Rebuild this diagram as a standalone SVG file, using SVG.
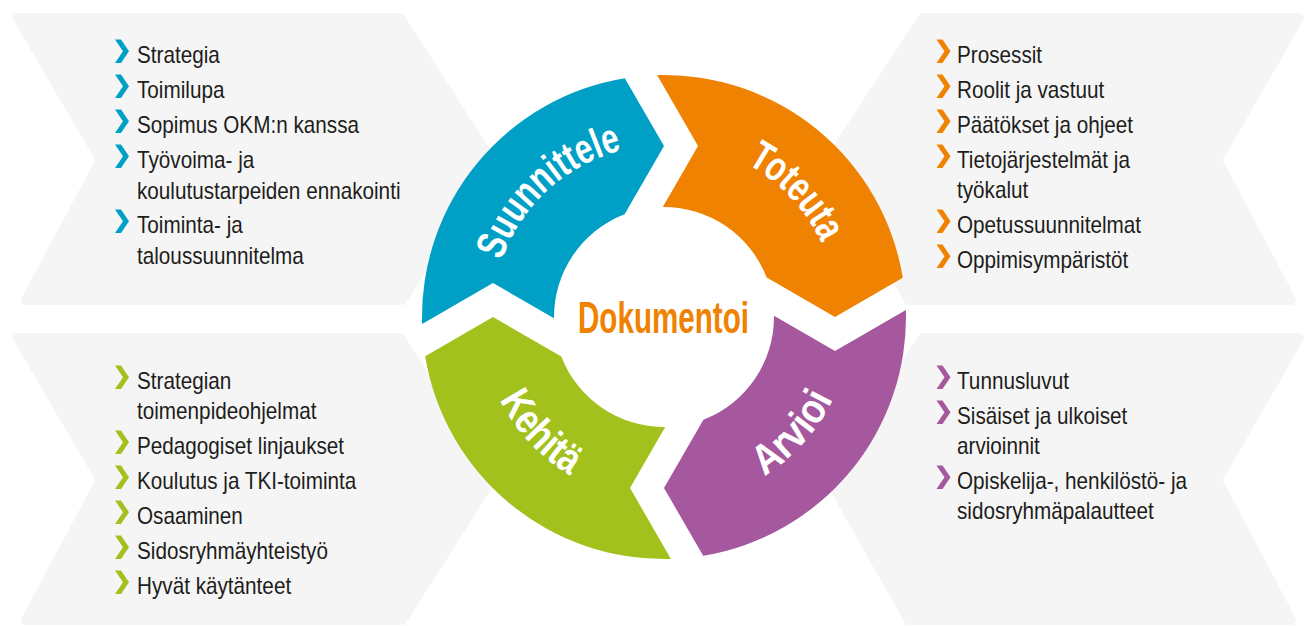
<svg xmlns="http://www.w3.org/2000/svg" width="1310" height="626" viewBox="0 0 1310 626">
<defs>
<style>
.bg{fill:#f5f5f5;stroke:#f5f5f5;stroke-width:10;stroke-linejoin:round}
.item{font-family:"Liberation Sans",Arial,sans-serif;font-size:23px;fill:#1d1d1b}
.ring{font-family:"Liberation Sans",Arial,sans-serif;font-weight:bold;font-size:42px;fill:#ffffff}
.center{font-family:"Liberation Sans",Arial,sans-serif;font-weight:bold;font-size:44px;fill:#ef8200}
.blue{fill:#009fc6}.orange{fill:#ef8200}.purple{fill:#a5589e}.green{fill:#a2c11c}
</style>
<path id="seg" d="M-241.9,6.9 A242,242 0 0 1 -39.2,-238.8 L0,-171 L-39.4,-102.7 A110,110 0 0 0 -110,1.2 L-171,-34 Z"/>
<path id="bul" d="M0,0 H6 L14,11.75 L6,23.5 H0 L8,11.75 Z"/>
<path id="pS" d="M496.08,354.23 A172,172 0 0 1 715.72,152.96"/>
<path id="pT" d="M623.68,147.74 A174,174 0 0 1 830.75,366.71"/>
<path id="pA" d="M625.55,501.03 A188,188 0 0 0 842.59,258.28"/>
<path id="pK" d="M488.04,263.2 A184,184 0 0 0 705.39,496.28"/>
</defs>
<g id="backgrounds">
<polygon class="bg" points="18,18 400,18 491,160 402,300 26,300 101,160"/>
<polygon class="bg" points="18,338 400,338 491,480 402,620 26,620 101,480"/>
<polygon class="bg" points="923,18 1299,18 1217,160 1291,300 909,300 830,160"/>
<polygon class="bg" points="923,338 1299,338 1217,480 1291,620 909,620 830,480"/>
</g>
<g id="connectors"></g>
<g id="suunnittele">
<use href="#seg" class="blue" transform="translate(664,317)"/>
<text class="ring"><textPath href="#pS" startOffset="50%" text-anchor="middle" textLength="170" lengthAdjust="spacingAndGlyphs">Suunnittele</textPath></text>
</g>
<g id="toteuta">
<use href="#seg" class="orange" transform="translate(664,317) rotate(90)"/>
<text class="ring"><textPath href="#pT" startOffset="50%" text-anchor="middle" textLength="110" lengthAdjust="spacingAndGlyphs">Toteuta</textPath></text>
</g>
<g id="arvioi">
<use href="#seg" class="purple" transform="translate(664,317) rotate(180)"/>
<text class="ring"><textPath href="#pA" startOffset="50%" text-anchor="middle" textLength="105" lengthAdjust="spacingAndGlyphs">Arvioi</textPath></text>
</g>
<g id="kehita">
<use href="#seg" class="green" transform="translate(664,317) rotate(270)"/>
<text class="ring"><textPath href="#pK" startOffset="50%" text-anchor="middle" textLength="105" lengthAdjust="spacingAndGlyphs">Kehitä</textPath></text>
</g>
<g id="dokumentoi">
<text class="center" x="578" y="333" textLength="171" lengthAdjust="spacingAndGlyphs">Dokumentoi</text>
</g>
<g id="list-suunnittele">
<use href="#bul" class="blue" x="115" y="39.5"/>
<use href="#bul" class="blue" x="115" y="74.5"/>
<use href="#bul" class="blue" x="115" y="109.5"/>
<use href="#bul" class="blue" x="115" y="144.5"/>
<use href="#bul" class="blue" x="115" y="209.5"/>
<g transform="translate(137,0) scale(0.9,1)">
<text class="item" x="0" y="63">Strategia</text>
<text class="item" x="0" y="98">Toimilupa</text>
<text class="item" x="0" y="133">Sopimus OKM:n kanssa</text>
<text class="item" x="0" y="168">Työvoima- ja</text>
<text class="item" x="0" y="199">koulutustarpeiden ennakointi</text>
<text class="item" x="0" y="233">Toiminta- ja</text>
<text class="item" x="0" y="264">taloussuunnitelma</text>
</g>
</g>
<g id="list-toteuta">
<use href="#bul" class="orange" x="936.5" y="39.5"/>
<use href="#bul" class="orange" x="936.5" y="74.5"/>
<use href="#bul" class="orange" x="936.5" y="109.5"/>
<use href="#bul" class="orange" x="936.5" y="144.5"/>
<use href="#bul" class="orange" x="936.5" y="209.5"/>
<use href="#bul" class="orange" x="936.5" y="244.5"/>
<g transform="translate(957,0) scale(0.9,1)">
<text class="item" x="0" y="63">Prosessit</text>
<text class="item" x="0" y="98">Roolit ja vastuut</text>
<text class="item" x="0" y="133">Päätökset ja ohjeet</text>
<text class="item" x="0" y="168">Tietojärjestelmät ja</text>
<text class="item" x="0" y="198">työkalut</text>
<text class="item" x="0" y="233">Opetussuunnitelmat</text>
<text class="item" x="0" y="268">Oppimisympäristöt</text>
</g>
</g>
<g id="list-kehita">
<use href="#bul" class="green" x="115" y="365.5"/>
<use href="#bul" class="green" x="115" y="430.5"/>
<use href="#bul" class="green" x="115" y="465.5"/>
<use href="#bul" class="green" x="115" y="500.5"/>
<use href="#bul" class="green" x="115" y="535.5"/>
<use href="#bul" class="green" x="115" y="570.5"/>
<g transform="translate(137,0) scale(0.9,1)">
<text class="item" x="0" y="389">Strategian</text>
<text class="item" x="0" y="419">toimenpideohjelmat</text>
<text class="item" x="0" y="454">Pedagogiset linjaukset</text>
<text class="item" x="0" y="489">Koulutus ja TKI-toiminta</text>
<text class="item" x="0" y="524">Osaaminen</text>
<text class="item" x="0" y="559">Sidosryhmäyhteistyö</text>
<text class="item" x="0" y="594">Hyvät käytänteet</text>
</g>
</g>
<g id="list-arvioi">
<use href="#bul" class="purple" x="936.5" y="365.5"/>
<use href="#bul" class="purple" x="936.5" y="400.5"/>
<use href="#bul" class="purple" x="936.5" y="465.5"/>
<g transform="translate(957,0) scale(0.9,1)">
<text class="item" x="0" y="389">Tunnusluvut</text>
<text class="item" x="0" y="424">Sisäiset ja ulkoiset</text>
<text class="item" x="0" y="454">arvioinnit</text>
<text class="item" x="0" y="489">Opiskelija-, henkilöstö- ja</text>
<text class="item" x="0" y="519">sidosryhmäpalautteet</text>
</g>
</g>
</svg>
